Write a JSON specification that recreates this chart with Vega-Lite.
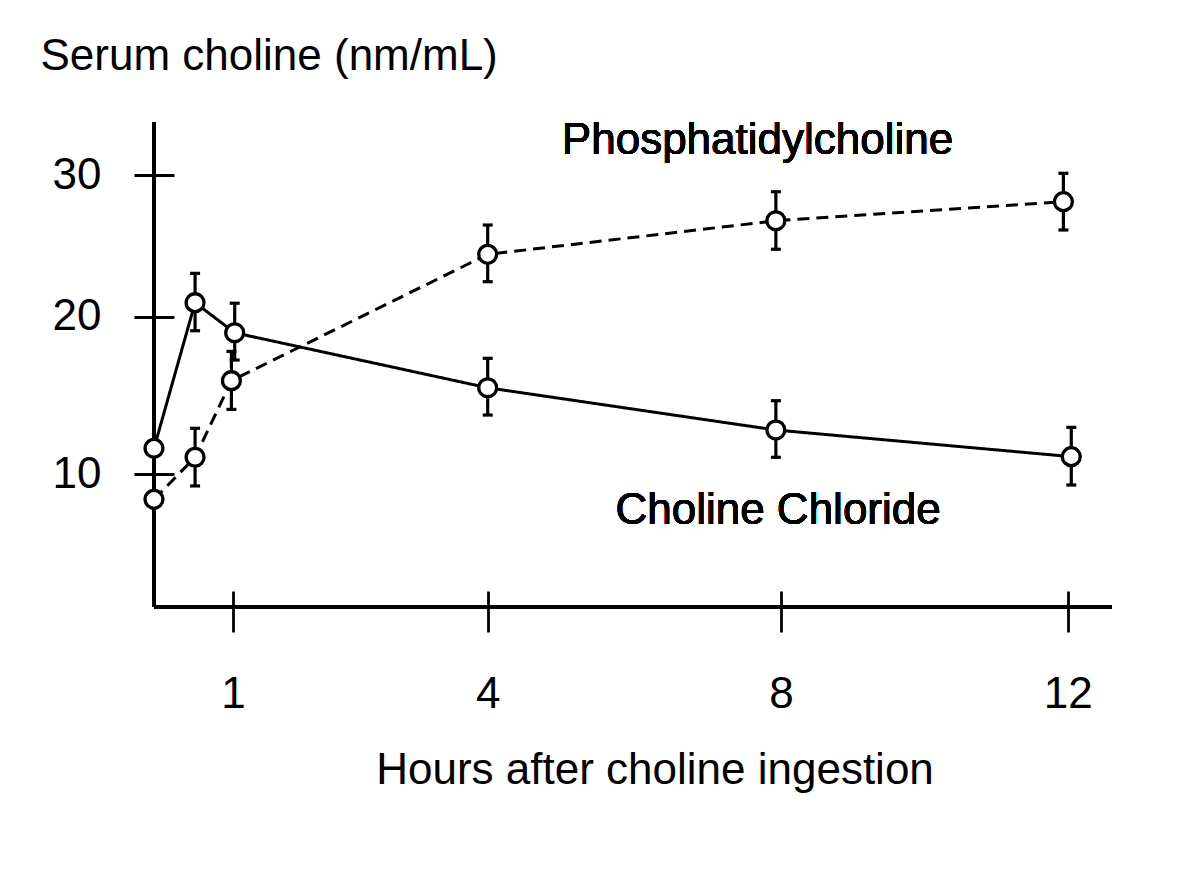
{
  "$schema": "https://vega.github.io/schema/vega-lite/v6.json",
  "width": 958,
  "height": 485,
  "autosize": {"type": "none"},
  "padding": {"left": 154, "top": 122, "right": 88, "bottom": 267},
  "background": "white",
  "config": {
    "view": {"stroke": null},
    "font": "Liberation Sans",
    "axis": {
      "grid": false,
      "domain": false,
      "labelFont": "Liberation Sans",
      "labelFontSize": 44,
      "labelColor": "black",
      "labelFlush": false,
      "labelOverlap": false,
      "tickColor": "black",
      "tickWidth": 2.8,
      "titleFont": "Liberation Sans",
      "titleFontSize": 44,
      "titleFontWeight": "normal",
      "titleColor": "black"
    }
  },
  "data": {
    "values": [
      {"series": "Choline Chloride", "hour": 0, "value": 11.65, "lo": null, "hi": null},
      {"series": "Choline Chloride", "hour": 0.52, "value": 20.99, "lo": 19.11, "hi": 23.06},
      {"series": "Choline Chloride", "hour": 1.02, "value": 18.98, "lo": 17.25, "hi": 20.95},
      {"series": "Choline Chloride", "hour": 4, "value": 15.49, "lo": 13.76, "hi": 17.36},
      {"series": "Choline Chloride", "hour": 7.93, "value": 12.81, "lo": 11.08, "hi": 14.67},
      {"series": "Choline Chloride", "hour": 12.05, "value": 11.12, "lo": 9.32, "hi": 12.98},
      {"series": "Phosphatidylcholine", "hour": 0, "value": 8.41, "lo": null, "hi": null},
      {"series": "Phosphatidylcholine", "hour": 0.52, "value": 11.08, "lo": 9.26, "hi": 12.92},
      {"series": "Phosphatidylcholine", "hour": 0.98, "value": 15.94, "lo": 14.12, "hi": 17.8},
      {"series": "Phosphatidylcholine", "hour": 4, "value": 24.4, "lo": 22.47, "hi": 26.47},
      {"series": "Phosphatidylcholine", "hour": 7.93, "value": 26.77, "lo": 24.76, "hi": 28.82},
      {"series": "Phosphatidylcholine", "hour": 11.94, "value": 28.12, "lo": 26.12, "hi": 30.12}
    ]
  },
  "layer": [
    {
      "mark": {"type": "line", "color": "black", "strokeWidth": 3},
      "encoding": {
        "x": {"field": "hour", "type": "quantitative",
              "scale": {"type": "linear", "domain": [0, 1, 4, 8, 12, 12.62], "range": [0, 79, 333.7, 627, 913.7, 958], "nice": false, "zero": false},
              "axis": {"values": [1, 4, 8, 12], "format": "d", "offset": -16, "tickSize": 41, "labelPadding": 40,
                       "title": "Hours after choline ingestion", "titleX": 500.5, "titleY": 192,
                       "titleAlign": "center", "titleBaseline": "alphabetic"}},
        "y": {"field": "value", "type": "quantitative",
              "scale": {"type": "linear", "domain": [1.58, 10, 20, 30, 33.74], "range": [485, 352.3, 194.7, 53, 0], "nice": false, "zero": false},
              "axis": {"values": [10, 20, 30], "format": "d", "offset": -20, "tickSize": 40, "labelPadding": 33,
                       "title": "Serum choline (nm/mL)", "titleAngle": 0, "titleX": -134, "titleY": -53,
                       "titleAlign": "left", "titleBaseline": "alphabetic"}},
        "detail": {"field": "series"},
        "strokeDash": {"field": "series", "type": "nominal",
                       "scale": {"domain": ["Choline Chloride", "Phosphatidylcholine"], "range": [[1, 0], [12, 7]]},
                       "legend": null}
      }
    },
    {
      "mark": {"type": "rule", "color": "black", "strokeWidth": 2.8},
      "encoding": {
        "y": {"datum": 1.58, "type": "quantitative"}
      }
    },
    {
      "mark": {"type": "rule", "color": "black", "strokeWidth": 2.8},
      "encoding": {
        "x": {"datum": 0, "type": "quantitative"}
      }
    },
    {
      "mark": {"type": "rule", "color": "black", "strokeWidth": 3.2},
      "encoding": {
        "x": {"field": "hour", "type": "quantitative"},
        "y": {"field": "lo", "type": "quantitative"},
        "y2": {"field": "hi"}
      }
    },
    {
      "mark": {"type": "tick", "color": "black", "orient": "horizontal", "size": 10, "thickness": 3.2, "opacity": 1},
      "encoding": {
        "x": {"field": "hour", "type": "quantitative"},
        "y": {"field": "lo", "type": "quantitative"}
      }
    },
    {
      "mark": {"type": "tick", "color": "black", "orient": "horizontal", "size": 10, "thickness": 3.2, "opacity": 1},
      "encoding": {
        "x": {"field": "hour", "type": "quantitative"},
        "y": {"field": "hi", "type": "quantitative"}
      }
    },
    {
      "mark": {"type": "circle", "fill": "white", "stroke": "black", "strokeWidth": 3.3, "size": 320, "opacity": 1, "fillOpacity": 1},
      "encoding": {
        "x": {"field": "hour", "type": "quantitative"},
        "y": {"field": "value", "type": "quantitative"}
      }
    },
    {
      "mark": {"type": "text", "text": "Phosphatidylcholine", "fontSize": 44, "font": "Liberation Sans", "color": "black", "align": "center", "baseline": "alphabetic"},
      "encoding": {
        "x": {"datum": 7.68, "type": "quantitative"},
        "y": {"datum": 31.48, "type": "quantitative"}
      }
    },
    {
      "mark": {"type": "text", "text": "Choline Chloride", "fontSize": 44, "font": "Liberation Sans", "color": "black", "align": "center", "baseline": "alphabetic"},
      "encoding": {
        "x": {"datum": 7.96, "type": "quantitative"},
        "y": {"datum": 6.85, "type": "quantitative"}
      }
    }
  ]
}
